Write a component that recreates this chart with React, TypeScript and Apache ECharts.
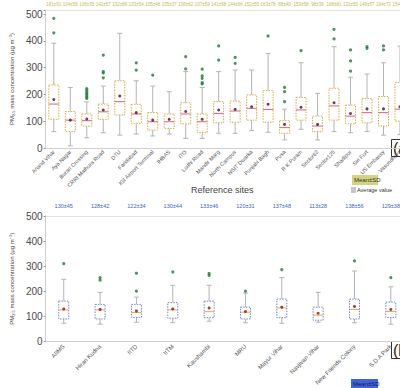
import React, { useEffect, useRef } from "react";
import * as echarts from "echarts";

// ---------- Panel (a) data ----------
const catsA = [
  "Anand Vihar", "Aya Nagar", "Burari Crossing", "CRRI Mathura Road", "DTU", "Faridabad",
  "IGI Airport Terminal", "IHBAS", "ITO", "Lodhi Road", "Mandir Marg", "North Campus",
  "NSIT Dwarka", "Punjabi Bagh", "Pusa", "R K Puram", "Sector62", "Sector125",
  "Shadipur", "Siri Fort", "US Embassy", "Vasundhara",
];
// [min, q1, median, q3, max]
const boxA = [
  [61, 107, 164, 235, 391], [8, 62, 104, 136, 226], [38, 82, 102, 127, 172], [57, 107, 135, 164, 231],
  [48, 123, 173, 251, 428], [52, 92, 127, 163, 251], [45, 67, 98, 132, 231], [52, 73, 98, 127, 210],
  [36, 90, 127, 169, 285], [36, 57, 98, 127, 226], [55, 94, 129, 173, 285], [55, 96, 138, 175, 291],
  [65, 104, 148, 198, 291], [59, 96, 144, 214, 353], [30, 55, 76, 102, 145], [70, 104, 142, 189, 318],
  [30, 61, 82, 119, 204], [61, 104, 157, 223, 378], [57, 90, 119, 160, 264], [61, 94, 132, 185, 276],
  [48, 82, 132, 192, 318], [50, 100, 145, 244, 380],
];
const meanA = [181, 104, 108, 142, 194, 132, 104, 107, 136, 107, 142, 144, 154, 163, 88, 152, 88, 169, 129, 146, 146, 154];
const outA: [number, number][] = [
  [0, 484], [0, 430],
  [2, 222], [2, 215], [2, 208], [2, 202], [2, 196], [2, 190], [2, 185],
  [3, 347], [3, 285], [3, 280], [3, 262],
  [5, 318], [5, 291],
  [6, 272],
  [8, 341], [8, 295],
  [9, 294], [9, 269], [9, 260], [9, 244], [9, 239],
  [10, 381], [10, 328],
  [11, 338], [11, 316],
  [13, 418],
  [14, 226], [14, 210], [14, 173],
  [15, 363],
  [17, 443], [17, 407],
  [18, 366], [18, 325], [18, 287],
  [19, 378], [19, 372],
  [20, 381], [20, 366],
];
const topLabelsA = [
  "181±91", "104±58", "106±35", "142±57", "192±86", "133±54", "105±48", "105±37", "136±62", "107±59", "141±68",
  "144±66", "152±55", "163±78", "88±40", "153±58", "98±36", "168±81", "131±50", "146±57", "164±72", "154±64",
];

// ---------- Panel (b) data ----------
const catsB = [
  "AIIMS", "Hiran Kudna", "IITD", "IITM", "Kaushambi", "MRU", "Mayur Vihar", "Navjivan Vihar", "New Friends Colony", "S.D.A Park",
];
const boxB = [
  [73, 90, 126, 161, 248], [69, 90, 126, 148, 196], [77, 96, 116, 148, 177], [75, 93, 126, 155, 224],
  [81, 95, 119, 161, 224], [75, 90, 117, 137, 193], [73, 95, 134, 169, 255], [77, 85, 105, 137, 196],
  [75, 90, 128, 169, 281], [69, 96, 120, 157, 218],
];
const meanB = [130, 128, 122, 130, 134, 120, 137, 113, 140, 128];
const outB: [number, number][] = [
  [0, 310], [1, 255], [1, 245], [2, 272], [2, 201], [3, 277], [4, 271], [4, 264],
  [5, 201], [6, 286], [8, 321], [9, 255],
];
const topLabelsB = ["130±45", "128±42", "122±34", "130±44", "133±46", "120±31", "137±48", "113±28", "138±56", "129±38"];

const yTicks = [0, 100, 200, 300, 400, 500];

const FONT = "'Liberation Sans', Arial, sans-serif";

function makeRender(boxColor: string, medColor: string) {
  return (params: any, api: any) => {
    const x = api.value(0);
    const pMin = api.coord([x, api.value(1)]);
    const pQ1 = api.coord([x, api.value(2)]);
    const pMed = api.coord([x, api.value(3)]);
    const pQ3 = api.coord([x, api.value(4)]);
    const pMax = api.coord([x, api.value(5)]);
    const cx = pMed[0];
    const bw = 10;
    const cw = 2.5;
    const gray = "#b4b4b4";
    return {
      type: "group",
      children: [
        { type: "line", shape: { x1: cx, y1: pQ3[1], x2: cx, y2: pMax[1] }, style: { stroke: gray, lineWidth: 1 } },
        { type: "line", shape: { x1: cx, y1: pQ1[1], x2: cx, y2: pMin[1] }, style: { stroke: gray, lineWidth: 1 } },
        { type: "line", shape: { x1: cx - cw, y1: pMax[1], x2: cx + cw, y2: pMax[1] }, style: { stroke: gray, lineWidth: 1 } },
        { type: "line", shape: { x1: cx - cw, y1: pMin[1], x2: cx + cw, y2: pMin[1] }, style: { stroke: gray, lineWidth: 1 } },
        {
          type: "rect",
          shape: { x: cx - bw / 2, y: pQ3[1], width: bw, height: pQ1[1] - pQ3[1] },
          style: { fill: "#ffffff", stroke: boxColor, lineWidth: 1, lineDash: [1.5, 1.2] },
        },
        { type: "line", shape: { x1: cx - bw / 2, y1: pMed[1], x2: cx + bw / 2, y2: pMed[1] }, style: { stroke: medColor, lineWidth: 1 } },
      ],
    };
  };
}

const yName = "{a|PM}{s|2.5}{a| mass concentration (μg m}{p|−3}{a|)}";
const yNameRich = {
  a: { fontSize: 6, color: "#444", fontFamily: FONT },
  s: { fontSize: 4, color: "#444", verticalAlign: "bottom", padding: [3, 0, 0, 0], fontFamily: FONT },
  p: { fontSize: 4, color: "#444", verticalAlign: "top", padding: [0, 0, 3, 0], fontFamily: FONT },
};

export default function App() {
  const ref = useRef<HTMLDivElement>(null);
  useEffect(() => {
    if (!ref.current) return;
    const chart = echarts.init(ref.current, null, { renderer: "svg" });
    const yAxisCommon = (top: boolean) => ({
      type: "value" as const,
      min: 0,
      max: top ? 515 : 500,
      interval: 100,
      splitLine: { show: false },
      axisLine: { show: true, lineStyle: { color: "#cfcfcf" } },
      axisTick: { show: true, length: 2, lineStyle: { color: "#999" } },
      axisLabel: {
        fontSize: 10,
        color: "#4a4a4a",
        margin: 3,
        formatter: (v: number) => (yTicks.includes(v) ? String(v) : ""),
      },
      name: yName,
      nameLocation: "middle" as const,
      nameRotate: 90,
      nameGap: 15,
      nameTextStyle: { rich: yNameRich },
    });
    const option: any = {
      animation: false,
      backgroundColor: "#ffffff",
      textStyle: { fontFamily: FONT },
      grid: [
        { left: 26, right: 1, top: 10, height: 138 },
        { left: 26, right: 1, top: 216, height: 142 },
      ],
      xAxis: [
        {
          type: "category", gridIndex: 0, data: catsA, position: "bottom",
          axisLine: { show: true, lineStyle: { color: "#cfcfcf" } }, axisTick: { show: false },
          axisLabel: { rotate: 45, fontSize: 5.5, color: "#555", margin: 3, interval: 0 },
        },
        {
          type: "category", gridIndex: 0, data: topLabelsA, position: "top",
          axisLine: { show: true, lineStyle: { color: "#e2e2e2" } }, axisTick: { show: false },
          axisLabel: { fontSize: 4.5, color: "#bdbd52", margin: 3, interval: 0 },
        },
        {
          type: "category", gridIndex: 1, data: catsB, position: "bottom",
          axisLine: { show: true, lineStyle: { color: "#cfcfcf" } }, axisTick: { show: false },
          axisLabel: { rotate: 45, fontSize: 6, color: "#555", margin: 4, interval: 0 },
        },
        {
          type: "category", gridIndex: 1, data: topLabelsB, position: "top",
          axisLine: { show: true, lineStyle: { color: "#e2e2e2" } }, axisTick: { show: false },
          axisLabel: { fontSize: 5.5, color: "#3a5fd0", margin: 7, interval: 0 },
        },
      ],
      yAxis: [
        { ...yAxisCommon(true), gridIndex: 0 },
        { ...yAxisCommon(false), gridIndex: 1 },
      ],
      series: [
        {
          type: "custom", xAxisIndex: 0, yAxisIndex: 0,
          renderItem: makeRender("#d9a848", "#e0607e"),
          encode: { x: 0, y: [1, 2, 3, 4, 5] },
          data: boxA.map((b, i) => [i, ...b]),
          z: 2,
        },
        {
          type: "scatter", xAxisIndex: 0, yAxisIndex: 0, symbolSize: 3.2,
          itemStyle: { color: "#1f7a38" }, data: outA, z: 3,
        },
        {
          type: "scatter", xAxisIndex: 0, yAxisIndex: 0, symbolSize: 3,
          itemStyle: { color: "#4a1020" }, data: meanA.map((m, i) => [i, m]), z: 4,
        },
        {
          type: "custom", xAxisIndex: 2, yAxisIndex: 1,
          renderItem: makeRender("#6f84da", "#f2a444"),
          encode: { x: 0, y: [1, 2, 3, 4, 5] },
          data: boxB.map((b, i) => [i, ...b]),
          z: 2,
        },
        {
          type: "scatter", xAxisIndex: 2, yAxisIndex: 1, symbolSize: 3.2,
          itemStyle: { color: "#1f7a38" }, data: outB, z: 3,
        },
        {
          type: "scatter", xAxisIndex: 2, yAxisIndex: 1, symbolSize: 3,
          itemStyle: { color: "#7a1a1a" }, data: meanB.map((m, i) => [i, m]), z: 4,
        },
      ],
      graphic: [
        { type: "text", left: 191, top: 185, style: { text: "Reference sites", fontSize: 9, fill: "#444", fontFamily: FONT } },
        { type: "rect", shape: { x: 352, y: 175, width: 26, height: 10 }, style: { fill: "#d3d382" } },
        { type: "text", x: 354, y: 180, style: { text: "Mean±SD", fontSize: 6, fill: "#333", verticalAlign: "middle", fontFamily: FONT } },
        { type: "rect", shape: { x: 351, y: 187, width: 5, height: 6 }, style: { fill: "#c8c8c8" } },
        { type: "text", x: 357, y: 190, style: { text: "Average value", fontSize: 5.5, fill: "#333", verticalAlign: "middle", fontFamily: FONT } },
        { type: "rect", shape: { x: 391.5, y: 139.5, width: 30, height: 17 }, style: { fill: "#fff", stroke: "#333", lineWidth: 1 } },
        { type: "text", x: 393, y: 148.5, style: { text: "(a)", fontSize: 16, fill: "#222", verticalAlign: "middle", fontFamily: FONT } },
        { type: "rect", shape: { x: 391.5, y: 341.5, width: 30, height: 17 }, style: { fill: "#fff", stroke: "#333", lineWidth: 1 } },
        { type: "text", x: 393, y: 350.5, style: { text: "(b)", fontSize: 16, fill: "#222", verticalAlign: "middle", fontFamily: FONT } },
        { type: "rect", shape: { x: 351, y: 379, width: 27, height: 11 }, style: { fill: "#3f63dc" } },
        { type: "text", x: 353, y: 384, style: { text: "Mean±SD", fontSize: 6, fill: "#1a1a40", verticalAlign: "middle", fontFamily: FONT } },
      ],
    };
    chart.setOption(option);
    return () => chart.dispose();
  }, []);
  return (
    <div style={{ position: "fixed", left: 0, top: 0, width: 400, height: 388, overflow: "hidden", background: "#fff" }}>
      <div ref={ref} style={{ width: 410, height: 388 }} />
    </div>
  );
}
